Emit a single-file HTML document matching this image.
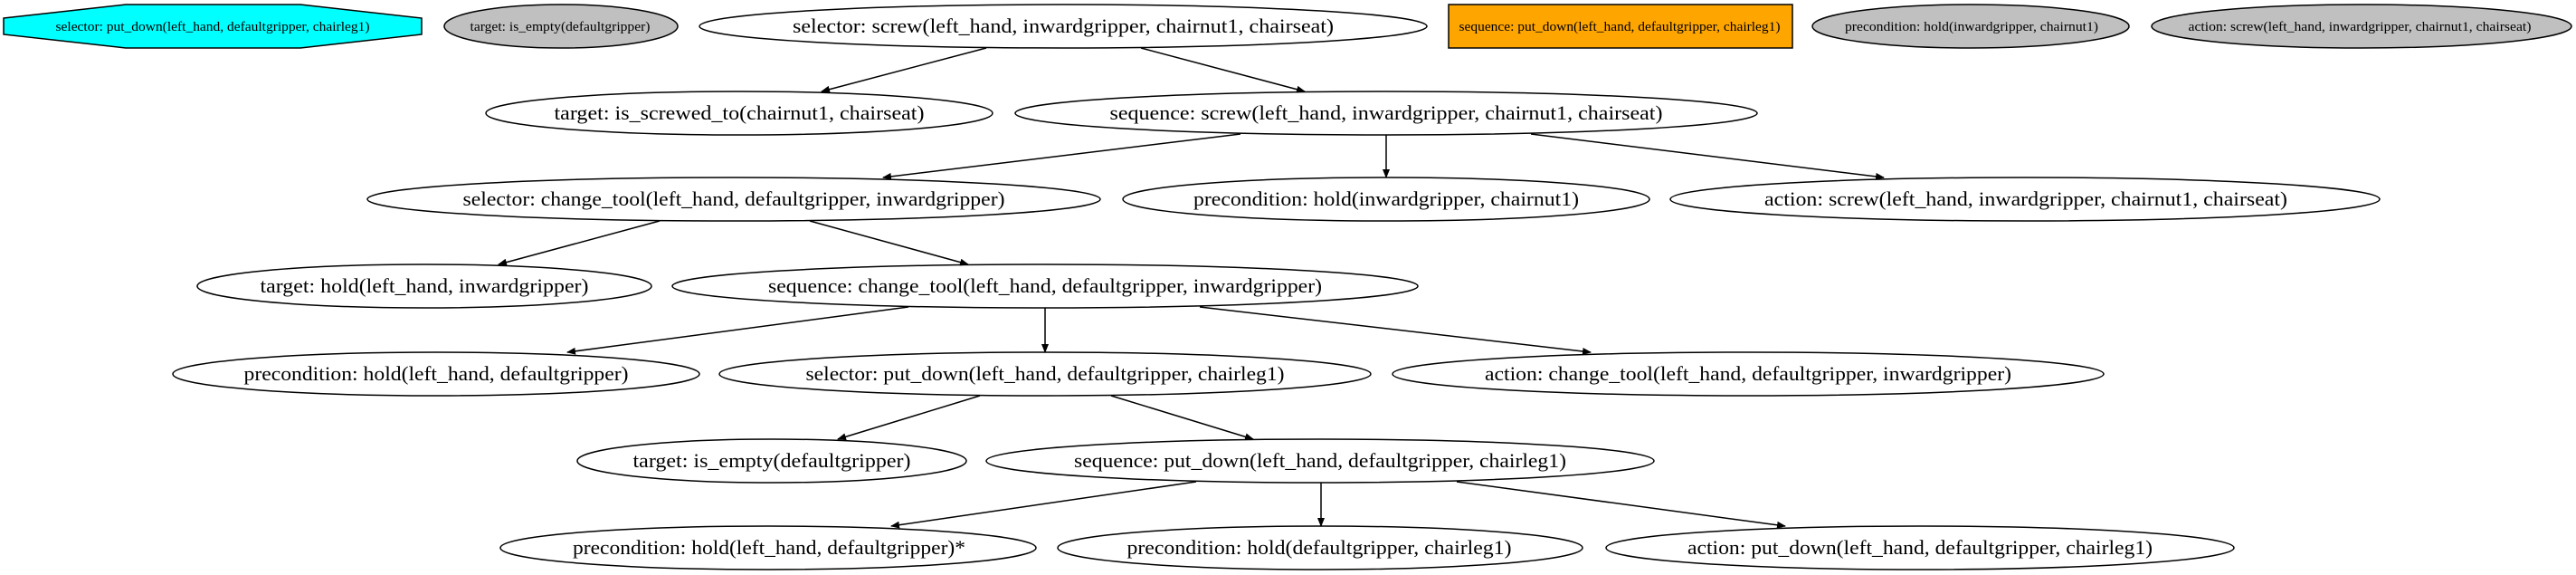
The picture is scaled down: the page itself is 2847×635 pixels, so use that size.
<!DOCTYPE html>
<html><head><meta charset="utf-8"><style>
html,body{margin:0;padding:0;background:#fff;}
svg{display:block;}
text{font-family:"Liberation Serif",serif;fill:#000;}
.m{font-size:22px;}
.s{font-size:15px;}
ellipse,polygon.n,rect.n{stroke:#000;stroke-width:1.5;}
line{stroke:#000;stroke-width:1.5;}
</style></head><body>
<svg width="2847" height="635" viewBox="0 0 2847 635" xmlns="http://www.w3.org/2000/svg">
<defs><marker id="a" markerWidth="10" markerHeight="8" refX="9" refY="4" orient="auto" markerUnits="userSpaceOnUse" viewBox="0 0 10 8"><path d="M0,0 L10,4 L0,8 z" fill="#000"/></marker></defs>
<!-- row 1 -->
<polygon class="n" points="4,20 139,5 332,5 466,20 466,38 332,53 139,53 4,38" fill="#00ffff"/>
<text class="s" x="235" y="34" text-anchor="middle" textLength="347" lengthAdjust="spacingAndGlyphs">selector: put_down(left_hand, defaultgripper, chairleg1)</text>
<ellipse cx="620" cy="29" rx="129" ry="24" fill="#c0c0c0"/>
<text class="s" x="619" y="34" text-anchor="middle" textLength="199" lengthAdjust="spacingAndGlyphs">target: is_empty(defaultgripper)</text>
<ellipse cx="1175" cy="29" rx="402" ry="24" fill="#fff"/>
<text class="m" x="1175" y="36" text-anchor="middle" textLength="598" lengthAdjust="spacingAndGlyphs">selector: screw(left_hand, inwardgripper, chairnut1, chairseat)</text>
<rect class="n" x="1601" y="5" width="380" height="48" fill="#ffa500"/>
<text class="s" x="1790" y="34" text-anchor="middle" textLength="355" lengthAdjust="spacingAndGlyphs">sequence: put_down(left_hand, defaultgripper, chairleg1)</text>
<ellipse cx="2178" cy="29" rx="175" ry="24" fill="#c0c0c0"/>
<text class="s" x="2179" y="34" text-anchor="middle" textLength="280" lengthAdjust="spacingAndGlyphs">precondition: hold(inwardgripper, chairnut1)</text>
<ellipse cx="2610" cy="29" rx="232" ry="24" fill="#c0c0c0"/>
<text class="s" x="2608" y="34" text-anchor="middle" textLength="379" lengthAdjust="spacingAndGlyphs">action: screw(left_hand, inwardgripper, chairnut1, chairseat)</text>
<!-- row 2 -->
<ellipse cx="817" cy="125" rx="280" ry="24" fill="#fff"/>
<text class="m" x="817" y="132" text-anchor="middle" textLength="409" lengthAdjust="spacingAndGlyphs">target: is_screwed_to(chairnut1, chairseat)</text>
<ellipse cx="1532" cy="125" rx="410" ry="24" fill="#fff"/>
<text class="m" x="1532" y="132" text-anchor="middle" textLength="611" lengthAdjust="spacingAndGlyphs">sequence: screw(left_hand, inwardgripper, chairnut1, chairseat)</text>
<!-- row 3 -->
<ellipse cx="811" cy="220" rx="405" ry="24" fill="#fff"/>
<text class="m" x="811" y="227" text-anchor="middle" textLength="599" lengthAdjust="spacingAndGlyphs">selector: change_tool(left_hand, defaultgripper, inwardgripper)</text>
<ellipse cx="1532" cy="220" rx="291" ry="24" fill="#fff"/>
<text class="m" x="1532" y="227" text-anchor="middle" textLength="426" lengthAdjust="spacingAndGlyphs">precondition: hold(inwardgripper, chairnut1)</text>
<ellipse cx="2238" cy="220" rx="392" ry="24" fill="#fff"/>
<text class="m" x="2239" y="227" text-anchor="middle" textLength="578" lengthAdjust="spacingAndGlyphs">action: screw(left_hand, inwardgripper, chairnut1, chairseat)</text>
<!-- row 4 -->
<ellipse cx="469" cy="316" rx="251" ry="24" fill="#fff"/>
<text class="m" x="469" y="323" text-anchor="middle" textLength="363" lengthAdjust="spacingAndGlyphs">target: hold(left_hand, inwardgripper)</text>
<ellipse cx="1155" cy="316" rx="412" ry="24" fill="#fff"/>
<text class="m" x="1155" y="323" text-anchor="middle" textLength="612" lengthAdjust="spacingAndGlyphs">sequence: change_tool(left_hand, defaultgripper, inwardgripper)</text>
<!-- row 5 -->
<ellipse cx="482" cy="413" rx="291" ry="24" fill="#fff"/>
<text class="m" x="482" y="420" text-anchor="middle" textLength="425" lengthAdjust="spacingAndGlyphs">precondition: hold(left_hand, defaultgripper)</text>
<ellipse cx="1155" cy="413" rx="360" ry="24" fill="#fff"/>
<text class="m" x="1155" y="420" text-anchor="middle" textLength="529" lengthAdjust="spacingAndGlyphs">selector: put_down(left_hand, defaultgripper, chairleg1)</text>
<ellipse cx="1932" cy="413" rx="393" ry="24" fill="#fff"/>
<text class="m" x="1932" y="420" text-anchor="middle" textLength="582" lengthAdjust="spacingAndGlyphs">action: change_tool(left_hand, defaultgripper, inwardgripper)</text>
<!-- row 6 -->
<ellipse cx="853" cy="509" rx="215" ry="24" fill="#fff"/>
<text class="m" x="853" y="516" text-anchor="middle" textLength="307" lengthAdjust="spacingAndGlyphs">target: is_empty(defaultgripper)</text>
<ellipse cx="1459" cy="509" rx="369" ry="24" fill="#fff"/>
<text class="m" x="1459" y="516" text-anchor="middle" textLength="544" lengthAdjust="spacingAndGlyphs">sequence: put_down(left_hand, defaultgripper, chairleg1)</text>
<!-- row 7 -->
<ellipse cx="849" cy="605" rx="296" ry="24" fill="#fff"/>
<text class="m" x="850" y="612" text-anchor="middle" textLength="434" lengthAdjust="spacingAndGlyphs">precondition: hold(left_hand, defaultgripper)*</text>
<ellipse cx="1459" cy="605" rx="290" ry="24" fill="#fff"/>
<text class="m" x="1458" y="612" text-anchor="middle" textLength="425" lengthAdjust="spacingAndGlyphs">precondition: hold(defaultgripper, chairleg1)</text>
<ellipse cx="2122" cy="605" rx="347" ry="24" fill="#fff"/>
<text class="m" x="2122" y="612" text-anchor="middle" textLength="514" lengthAdjust="spacingAndGlyphs">action: put_down(left_hand, defaultgripper, chairleg1)</text>
<!-- edges -->
<g marker-end="url(#a)">
<line x1="1090" y1="53" x2="908" y2="101"/>
<line x1="1261" y1="53" x2="1442" y2="101"/>
<line x1="1371" y1="148" x2="976" y2="196"/>
<line x1="1532" y1="149" x2="1532" y2="196"/>
<line x1="1692" y1="148" x2="2082" y2="196"/>
<line x1="729" y1="244" x2="551" y2="292"/>
<line x1="895" y1="244" x2="1070" y2="292"/>
<line x1="1004" y1="339" x2="627" y2="389"/>
<line x1="1155" y1="340" x2="1155" y2="389"/>
<line x1="1326" y1="339" x2="1758" y2="389"/>
<line x1="1083" y1="437" x2="926" y2="485"/>
<line x1="1228" y1="437" x2="1385" y2="485"/>
<line x1="1322" y1="532" x2="985" y2="581"/>
<line x1="1460" y1="533" x2="1460" y2="581"/>
<line x1="1610" y1="532" x2="1973" y2="581"/>
</g>
</svg>
</body></html>
